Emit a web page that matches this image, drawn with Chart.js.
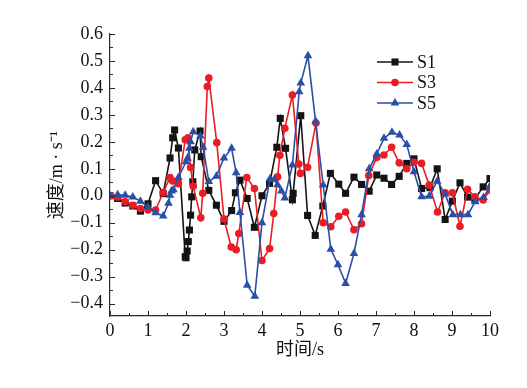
<!DOCTYPE html>
<html>
<head>
<meta charset="utf-8">
<script src="https://cdn.jsdelivr.net/npm/chart.js@4/dist/chart.umd.min.js"></script>
<style>
  html, body { margin: 0; padding: 0; background: #fff; }
  #box { width: 527px; height: 388px; }
</style>
</head>
<body>
<div id="box"><canvas id="speed" width="527" height="388"></canvas></div>
<script>
// time (s) and speed (m/s)
const s1Time = [0,0.2,0.4,0.6,0.8,1.0,1.2,1.4,1.58,1.65,1.7,1.8,1.98,2.0,2.03,2.06,2.09,2.12,2.15,2.18,2.23,2.37,2.4,2.6,2.8,3.0,3.2,3.3,3.42,3.61,3.8,4.0,4.2,4.39,4.48,4.62,4.8,4.82,5.02,5.2,5.4,5.6,5.8,6.02,6.2,6.42,6.62,6.82,7.02,7.21,7.41,7.61,7.81,8.0,8.2,8.42,8.61,8.82,9.01,9.21,9.41,9.6,9.82,10.0];
const s1Speed = [0,-0.01,-0.027,-0.038,-0.057,-0.03,0.056,0.008,0.14,0.215,0.244,0.177,-0.226,-0.23,-0.205,-0.17,-0.127,-0.072,-0.004,0.052,0.17,0.24,0.145,0.02,-0.035,-0.095,-0.055,0.011,0.058,-0.01,-0.117,0,0.046,0.18,0.287,0.176,-0.015,0.009,0.297,-0.073,-0.147,-0.038,0.083,0.043,0.009,0.069,0.042,0.017,0.077,0.065,0.042,0.072,0.12,0.137,0.027,0.03,0.1,-0.088,-0.02,0.048,-0.005,-0.012,0.033,0.064];

const s3Time = [0,0.2,0.4,0.6,0.8,1.0,1.2,1.4,1.58,1.65,1.8,1.98,2.05,2.12,2.19,2.39,2.44,2.56,2.6,2.81,3.0,3.19,3.32,3.39,3.6,3.8,4.0,4.2,4.31,4.41,4.47,4.6,4.8,4.97,5.01,5.2,5.42,5.61,5.81,6.02,6.2,6.42,6.62,6.81,7.02,7.21,7.41,7.61,7.81,8.0,8.2,8.4,8.62,8.82,9.01,9.21,9.41,9.6,9.82,10.0];
const s3Speed = [0,-0.005,-0.022,-0.035,-0.047,-0.053,-0.053,0.012,0.068,0.055,0.045,0.208,0.215,0.105,0.035,-0.082,0.009,0.405,0.437,0.197,-0.086,-0.19,-0.2,-0.14,0.068,0.027,-0.24,-0.196,-0.066,0.07,0.15,0.25,0.374,0.118,0.083,0.106,0.27,-0.1,-0.115,-0.076,-0.06,-0.126,-0.104,0.075,0.142,0.151,0.18,0.122,0.1,0.124,0.12,0.04,-0.06,0.011,0.011,-0.113,0.024,-0.004,-0.016,0.021];

const s5Time = [0,0.2,0.4,0.6,0.8,1.0,1.2,1.4,1.54,1.58,1.62,1.67,1.8,2.0,2.04,2.09,2.12,2.19,2.38,2.45,2.6,2.8,3.0,3.2,3.32,3.42,3.61,3.81,4.0,4.21,4.32,4.41,4.51,4.6,4.8,4.98,5.02,5.21,5.41,5.61,5.81,6.0,6.2,6.42,6.62,6.82,7.02,7.21,7.42,7.62,7.81,8.0,8.2,8.4,8.61,8.82,9.02,9.22,9.42,9.61,9.83,10.0];
const s5Speed = [0,0.004,0.002,-0.005,-0.02,-0.042,-0.063,-0.075,-0.028,0.002,0.018,0.022,0.068,0.126,0.139,0.176,0.2,0.237,0.222,0.18,0.053,0.072,0.14,0.176,0.085,-0.062,-0.332,-0.373,-0.1,0.063,0.06,0.041,0.018,-0.008,0.114,0.386,0.418,0.519,0.276,0.04,-0.198,-0.256,-0.325,-0.214,-0.07,0.1,0.155,0.213,0.236,0.225,0.19,0.089,-0.004,-0.002,0.054,0.006,-0.07,-0.07,-0.07,-0.022,-0.006,0.036];

const xTicks = [0,1,2,3,4,5,6,7,8,9,10];
const yTicks = [-0.4,-0.3,-0.2,-0.1,0,0.1,0.2,0.3,0.4,0.5,0.6];

const seriesNames = ['S1', 'S3', 'S5'];

const FONT = '"Liberation Serif", "Times New Roman", "Noto Sans CJK SC", serif';
const axisColor = '#2a2a2a';

function pts(t, v) {
  return t.map((x, i) => ({ x: x, y: v[i] }));
}

// own marker drawing, same geometry as chart.js point styles
function marker(ctx, style, r, x, y) {
  ctx.beginPath();
  if (style === 'rect') {
    const h = r * Math.SQRT1_2;
    ctx.rect(x - h, y - h, 2 * h, 2 * h);
  } else if (style === 'circle') {
    ctx.arc(x, y, r, 0, Math.PI * 2);
  } else {
    for (let k = 0; k < 3; k++) {
      const a = k * 2 * Math.PI / 3;
      const px = x + Math.sin(a) * r, py = y - Math.cos(a) * r;
      k ? ctx.lineTo(px, py) : ctx.moveTo(px, py);
    }
    ctx.closePath();
  }
  ctx.fill();
}

const innerTicks = {
  id: 'innerTicks',
  afterDraw(chart) {
    const { ctx } = chart;
    const x = chart.scales.x, y = chart.scales.y;
    const area = chart.chartArea;
    ctx.save();
    ctx.strokeStyle = axisColor;
    ctx.lineWidth = 1;
    ctx.beginPath();
    xTicks.forEach((v, i) => {
      let p = Math.round(x.getPixelForValue(v)) + 0.5;
      ctx.moveTo(p, area.bottom); ctx.lineTo(p, area.bottom - 5);
      if (i < xTicks.length - 1) {
        p = Math.round(x.getPixelForValue((v + xTicks[i + 1]) / 2)) + 0.5;
        ctx.moveTo(p, area.bottom); ctx.lineTo(p, area.bottom - 3);
      }
    });
    yTicks.forEach((v, i) => {
      let p = Math.round(y.getPixelForValue(v)) + 0.5;
      ctx.moveTo(area.left, p); ctx.lineTo(area.left + 5, p);
      if (i < yTicks.length - 1) {
        p = Math.round(y.getPixelForValue((v + yTicks[i + 1]) / 2)) + 0.5;
        ctx.moveTo(area.left, p); ctx.lineTo(area.left + 3, p);
      }
    });
    ctx.stroke();
    ctx.restore();
  }
};

const lineLegend = {
  id: 'lineLegend',
  afterDraw(chart) {
    const { ctx } = chart;
    const x0 = 377, x1 = 413, top = 62, step = 20.5;
    ctx.save();
    chart.data.datasets.forEach((ds, i) => {
      const yy = top + i * step;
      ctx.strokeStyle = ds.borderColor;
      ctx.fillStyle = ds.borderColor;
      ctx.lineWidth = ds.borderWidth;
      ctx.beginPath();
      ctx.moveTo(x0, yy); ctx.lineTo(x1, yy);
      ctx.stroke();
      marker(ctx, ds.pointStyle, ds.pointRadius, (x0 + x1) / 2, yy);
      ctx.fillStyle = '#111';
      ctx.font = '18px ' + FONT;
      ctx.textBaseline = 'middle';
      ctx.textAlign = 'left';
      ctx.fillText(ds.label, x1 + 4, yy + 1);
    });
    ctx.restore();
  }
};

new Chart(document.getElementById('speed'), {
  type: 'line',
  data: {
    datasets: [
      {
        label: seriesNames[0],
        data: pts(s1Time, s1Speed),
        borderColor: '#141414',
        backgroundColor: '#141414',
        borderWidth: 1.6,
        pointStyle: 'rect',
        pointRadius: 5,
        pointBorderWidth: 0,
        order: 2
      },
      {
        label: seriesNames[1],
        data: pts(s3Time, s3Speed),
        borderColor: '#ec1c24',
        backgroundColor: '#ec1c24',
        borderWidth: 1.6,
        pointStyle: 'circle',
        pointRadius: 3.8,
        pointBorderWidth: 0,
        order: 1
      },
      {
        label: seriesNames[2],
        data: pts(s5Time, s5Speed),
        borderColor: '#2b4ea6',
        backgroundColor: '#2b4ea6',
        borderWidth: 1.6,
        pointStyle: 'triangle',
        pointRadius: 5,
        pointBorderWidth: 0,
        order: 0
      }
    ]
  },
  options: {
    responsive: false,
    animation: false,
    devicePixelRatio: 1,
    layout: { padding: { top: 34, right: 37, left: 0, bottom: 0 } },
    plugins: {
      legend: { display: false },
      tooltip: { enabled: false }
    },
    scales: {
      x: {
        type: 'linear',
        min: 0,
        max: 10,
        afterFit: s => { s.height = 72; },
        afterBuildTicks: s => { s.ticks = xTicks.map(v => ({ value: v })); },
        grid: { display: false, drawTicks: false },
        border: { display: true, color: axisColor, width: 1.2 },
        ticks: {
          padding: 4,
          color: '#111',
          maxRotation: 0,
          font: { family: FONT, size: 18 },
          callback: v => String(v)
        },
        title: {
          display: true,
          text: '时间/s',
          color: '#111',
          font: { family: FONT, size: 18 },
          padding: { top: 0, bottom: 27 }
        }
      },
      y: {
        type: 'linear',
        min: -0.446,
        max: 0.6,
        afterFit: s => { s.width = 110; },
        afterBuildTicks: s => { s.ticks = yTicks.map(v => ({ value: v })); },
        grid: { display: false, drawTicks: false },
        border: { display: true, color: axisColor, width: 1.2 },
        ticks: {
          padding: 7,
          color: '#111',
          font: { family: FONT, size: 18 },
          callback: v => v.toFixed(1).replace('-', '\u2212')
        },
        title: {
          display: true,
          text: '速度/m · s\u207B\u00B9',
          color: '#111',
          font: { family: FONT, size: 18 },
          padding: { top: 46, bottom: 0 }
        }
      }
    }
  },
  plugins: [innerTicks, lineLegend]
});
</script>
</body>
</html>
